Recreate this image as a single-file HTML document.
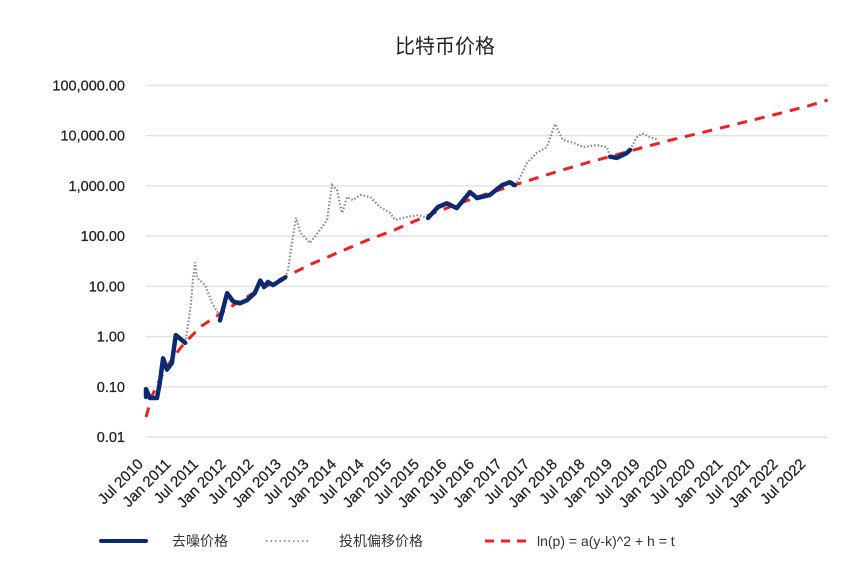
<!DOCTYPE html>
<html><head><meta charset="utf-8">
<style>
html,body{margin:0;padding:0;background:#fff;}
svg{display:block;font-family:"Liberation Sans","Noto Sans CJK SC",sans-serif;}
</style></head>
<body>
<svg id="chart" width="852" height="583" viewBox="0 0 852 583">
<text x="445" y="53" text-anchor="middle" font-size="20" fill="#222">比特币价格</text>
<g id="grid"></g>
<g id="yticks"></g>
<g id="xticks"></g>
<g id="series"></g>
<g>
  <g>
    <line x1="101" y1="541" x2="146" y2="541" stroke="#0c2a72" stroke-width="4" stroke-linecap="round"/>
    <text x="172" y="546" font-size="14" fill="#333">去噪价格</text>
  </g>
  <g>
    <line x1="266" y1="541" x2="310" y2="541" stroke="#999" stroke-width="2" stroke-dasharray="1.5 3"/>
    <text x="339" y="546" font-size="14" fill="#333">投机偏移价格</text>
  </g>
  <g>
    <line x1="485" y1="541" x2="528" y2="541" stroke="#f02020" stroke-width="3" stroke-dasharray="9 7"/>
    <text x="537" y="546" font-size="14" fill="#333">ln(p) = a(y-k)^2 + h = t</text>
  </g>
</g>
</svg>
<script>
const yTickLabels = ["0.01","0.10","1.00","10.00","100.00","1,000.00","10,000.00","100,000.00"];
const yTickValues = [0.01,0.1,1,10,100,1000,10000,100000];
const xTickLabels = ["Jul 2010","Jan 2011","Jul 2011","Jan 2012","Jul 2012","Jan 2013","Jul 2013","Jan 2014","Jul 2014","Jan 2015","Jul 2015","Jan 2016","Jul 2016","Jan 2017","Jul 2017","Jan 2018","Jul 2018","Jan 2019","Jul 2019","Jan 2020","Jul 2020","Jan 2021","Jul 2021","Jan 2022","Jul 2022"];
const xTickValues = [2010.5,2011,2011.5,2012,2012.5,2013,2013.5,2014,2014.5,2015,2015.5,2016,2016.5,2017,2017.5,2018,2018.5,2019,2019.5,2020,2020.5,2021,2021.5,2022,2022.5];
const denoisedSegments = [
 [[2010.50,0.063],[2010.50,0.09],[2010.57,0.06],[2010.70,0.06],[2010.75,0.12],[2010.81,0.37],[2010.88,0.22],[2010.97,0.3],[2011.04,1.07],[2011.15,0.85],[2011.21,0.75]],
 [[2011.84,2.1],[2011.97,7.3],[2012.08,5],[2012.20,4.6],[2012.33,5.3],[2012.47,7.3],[2012.57,13],[2012.64,9.7],[2012.71,12.2],[2012.80,10.6],[2012.93,13],[2013.02,15]],
 [[2015.61,230],[2015.79,380],[2015.95,450],[2016.13,360],[2016.37,750],[2016.50,570],[2016.73,660],[2016.95,1030],[2017.09,1180],[2017.18,1030]],
 [[2018.91,3800],[2019.03,3600],[2019.21,4500],[2019.27,5200]]
];
const speculativeSegments = [
 [[2011.21,0.75],[2011.30,3.4],[2011.35,13],[2011.39,30],[2011.42,15],[2011.57,10.6],[2011.70,4.6],[2011.80,3],[2011.84,2.1]],
 [[2013.02,15],[2013.07,21],[2013.16,96],[2013.22,230],[2013.29,120],[2013.47,73],[2013.65,132],[2013.78,210],[2013.87,1040],[2013.96,830],[2014.05,290],[2014.07,330],[2014.14,600],[2014.25,520],[2014.38,660],[2014.56,600],[2014.74,380],[2014.92,290],[2015.01,210],[2015.23,240],[2015.43,260],[2015.61,230]],
 [[2017.18,1030],[2017.28,1500],[2017.40,2850],[2017.58,4500],[2017.76,5900],[2017.91,17000],[2018.05,8200],[2018.24,7200],[2018.42,5900],[2018.67,6500],[2018.85,5900],[2018.91,3800]],
 [[2019.27,5200],[2019.39,9300],[2019.49,11000],[2019.63,9300],[2019.78,8200]]
];
const modelYears = [2010.5,2010.62,2010.75,2010.88,2011.0,2011.2,2011.5,2012.0,2012.5,2013.0,2013.5,2014.0,2014.5,2015.0,2015.5,2016.0,2016.5,2017.0,2017.5,2018.0,2018.5,2019.0,2019.5,2020.0,2020.5,2021.0,2021.5,2022.0,2022.5,2022.85];
const modelPrices = [0.025,0.07,0.14,0.25,0.4,0.75,1.6,3.7,8,15,28,48,82,132,230,380,600,900,1350,2000,2900,4100,5800,8100,11000,15000,20500,28000,39000,51000];

const X0=146, PX_PER_YEAR=55.2, Y_ONE=336.6, PX_PER_DEC=50.25, PLOT_LEFT=146, PLOT_RIGHT=828;
function xs(yr){return X0+(yr-2010.5)*PX_PER_YEAR;}
function ys(v){return Y_ONE-Math.log10(v)*PX_PER_DEC;}
const NS="http://www.w3.org/2000/svg";
function mk(t,attrs,parent){const e=document.createElementNS(NS,t);for(const k in attrs)e.setAttribute(k,attrs[k]);parent.appendChild(e);return e;}
const grid=document.getElementById('grid'),yt=document.getElementById('yticks'),xt=document.getElementById('xticks'),ser=document.getElementById('series');
yTickValues.forEach((v,i)=>{
  const y=ys(v);
  const l=mk('line',{x1:PLOT_LEFT,x2:PLOT_RIGHT,y1:y,y2:y,stroke:'#e2e2e2','stroke-width':1.5},grid);
  
  
  const t=mk('text',{x:125,y:y+5,'text-anchor':'end','font-size':14.5,fill:'#222','stroke':'#222','stroke-width':0.25},yt);
  t.textContent=yTickLabels[i];
  
  
});
xTickValues.forEach((v,i)=>{
  const x=xs(v)-2,y=465;
  const t=mk('text',{x:x,y:y,'text-anchor':'end','font-size':15,fill:'#222','stroke':'#222','stroke-width':0.25,transform:`rotate(-45 ${x} ${y})`},xt);
  t.textContent=xTickLabels[i];
  
  
});
function pts(arr){return arr.map(p=>xs(p[0]).toFixed(1)+','+ys(p[1]).toFixed(1)).join(' ');}
speculativeSegments.forEach(seg=>{
  const p=mk('polyline',{points:pts(seg),fill:'none',stroke:'#888','stroke-width':2.2,'stroke-dasharray':'1.5 2'},ser);
  
  
});
const modelPts=modelYears.map((y,i)=>[y,modelPrices[i]]);
const m=mk('polyline',{points:pts(modelPts),fill:'none',stroke:'#f02020','stroke-width':3,'stroke-dasharray':'10 8'},ser);


denoisedSegments.forEach(seg=>{
  const p=mk('polyline',{points:pts(seg),fill:'none',stroke:'#0c2a72','stroke-width':4.5,'stroke-linejoin':'round','stroke-linecap':'round'},ser);
  
  
});
</script>
</body></html>
